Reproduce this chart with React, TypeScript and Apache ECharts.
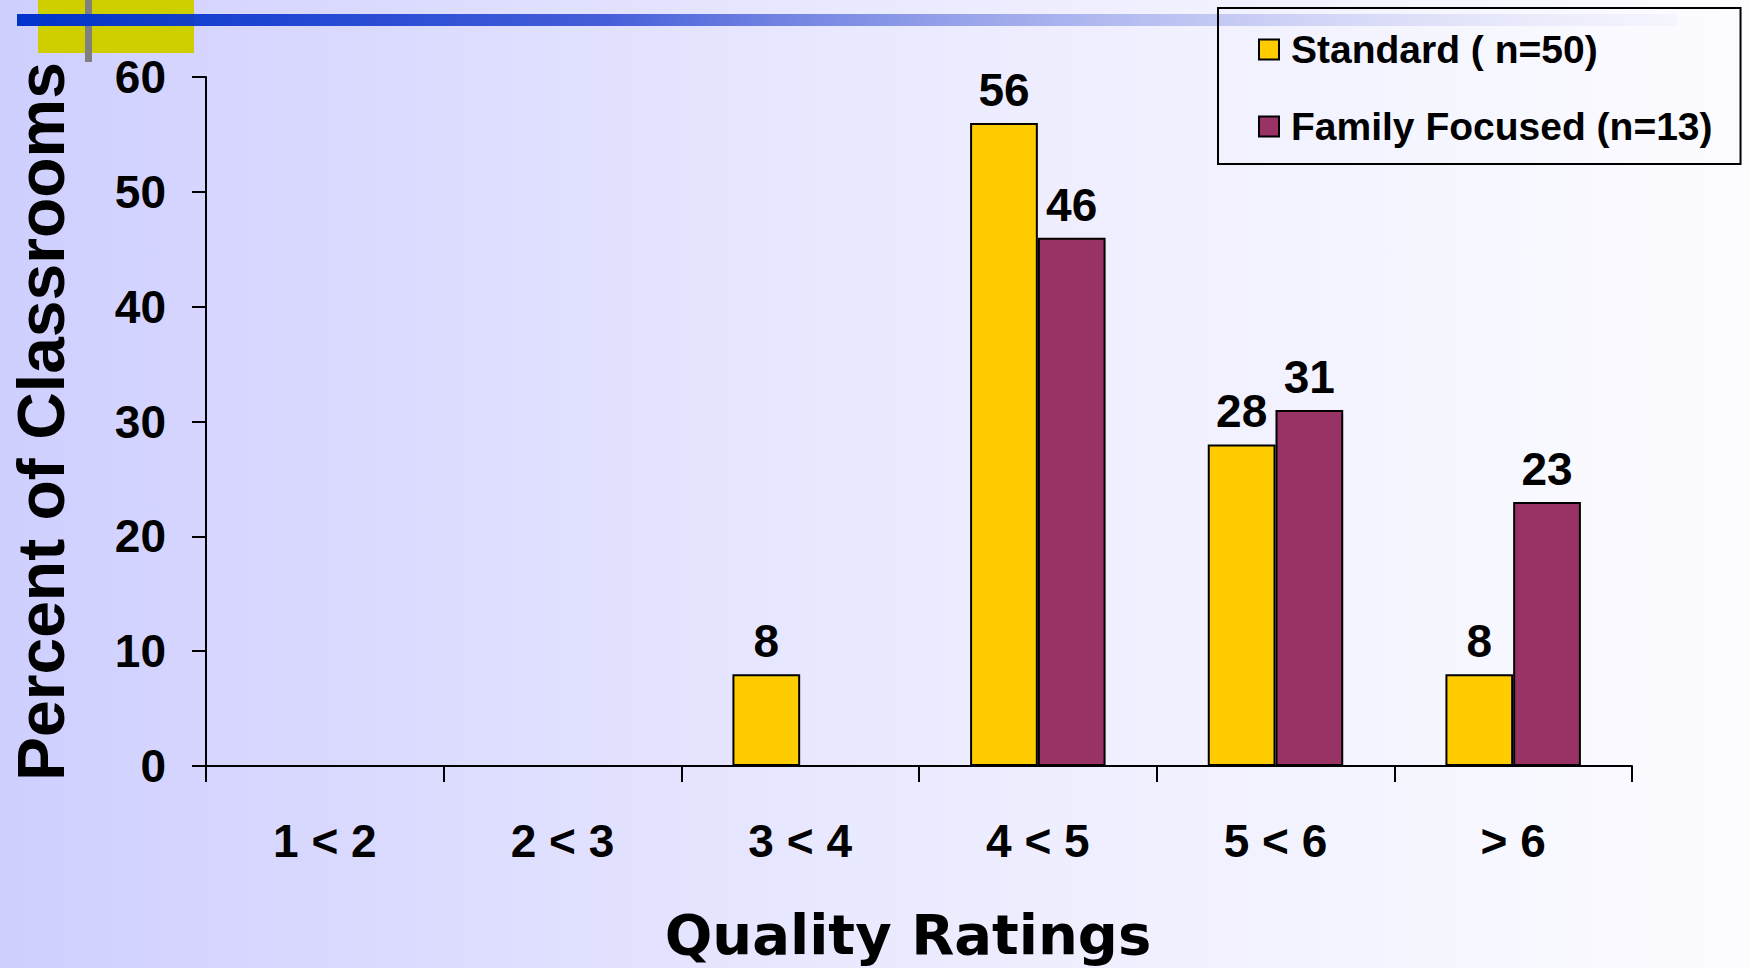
import React, { useEffect, useRef } from "react";
import * as echarts from "echarts";

// Quality rating bands on the x axis
const categories = ["1 < 2", "2 < 3", "3 < 4", "4 < 5", "5 < 6", "> 6"];

// Percent of classrooms in each band
const standardValues = [0, 0, 8, 56, 28, 8];
const familyFocusedValues = [0, 0, 0, 46, 31, 23];

const seriesNames = ["Standard ( n=50)", "Family Focused (n=13)"];

const yTicks = { min: 0, max: 60, interval: 10 };

const ARIAL = "'Liberation Sans', Arial, Helvetica, sans-serif";

export default function App() {
  const ref = useRef<HTMLDivElement>(null);

  useEffect(() => {
    if (!ref.current) return;
    const chart = echarts.init(ref.current, undefined, { renderer: "svg" });

    const valueLabel = {
      show: true,
      position: "top" as const,
      distance: 10,
      color: "#000",
      fontFamily: ARIAL,
      fontWeight: "bold" as const,
      fontSize: 46,
      formatter: (p: any) => (p.value > 0 ? String(p.value) : ""),
    };

    chart.setOption({
      animation: false,
      backgroundColor: {
        type: "linear",
        x: 0,
        y: 0,
        x2: 1,
        y2: 0,
        colorStops: [
          { offset: 0, color: "#cfcfff" },
          { offset: 0.55, color: "#ececff" },
          { offset: 1, color: "#fcfcff" },
        ],
      },
      graphic: [
        {
          type: "rect",
          z: 1,
          shape: { x: 38, y: 0, width: 156, height: 53 },
          style: { fill: "#cfcf00" },
        },
        {
          type: "rect",
          z: 2,
          shape: { x: 85, y: 0, width: 7, height: 62 },
          style: { fill: "#808080" },
        },
        {
          type: "rect",
          z: 3,
          shape: { x: 17, y: 14, width: 1660, height: 12 },
          style: {
            fill: {
              type: "linear",
              x: 0,
              y: 0,
              x2: 1,
              y2: 0,
              colorStops: [
                { offset: 0, color: "rgba(0,51,204,1)" },
                { offset: 0.35, color: "rgba(40,70,210,0.85)" },
                { offset: 1, color: "rgba(200,200,240,0.1)" },
              ],
            },
          },
        },
      ],
      legend: {
        orient: "vertical",
        left: 1218,
        top: 8,
        padding: [22, 28, 18, 40],
        itemGap: 38,
        itemWidth: 20,
        itemHeight: 20,
        icon: "rect",
        borderColor: "#000",
        borderWidth: 2,
        data: seriesNames,
        textStyle: {
          color: "#000",
          fontFamily: ARIAL,
          fontWeight: "bold",
          fontSize: 39,
          padding: [0, 0, 0, 7],
        },
      },
      grid: {
        left: 202,
        right: 117,
        top: 77,
        bottom: 202,
        containLabel: false,
      },
      xAxis: {
        type: "category",
        data: categories,
        boundaryGap: true,
        name: "Quality Ratings",
        nameLocation: "middle",
        nameGap: 140,
        nameTextStyle: {
          color: "#000",
          fontFamily: "'DejaVu Sans', Verdana, sans-serif",
          fontWeight: "bold",
          fontSize: 56,
          padding: [0, 22, 0, 0],
        },
        axisLine: { lineStyle: { color: "#000", width: 2 } },
        axisTick: {
          show: true,
          alignWithLabel: false,
          length: 16,
          lineStyle: { color: "#000", width: 2 },
        },
        axisLabel: {
          color: "#000",
          fontFamily: ARIAL,
          fontWeight: "bold",
          fontSize: 46,
          margin: 52,
          interval: 0,
        },
        splitLine: { show: false },
      },
      yAxis: {
        type: "value",
        min: yTicks.min,
        max: yTicks.max,
        interval: yTicks.interval,
        name: "Percent of Classrooms",
        nameLocation: "middle",
        nameRotate: 90,
        nameGap: 132,
        nameTextStyle: {
          color: "#000",
          fontFamily: ARIAL,
          fontWeight: "bold",
          fontSize: 66,
        },
        axisLine: { show: true, lineStyle: { color: "#000", width: 2 } },
        axisTick: {
          show: true,
          length: 14,
          lineStyle: { color: "#000", width: 2 },
        },
        axisLabel: {
          color: "#000",
          fontFamily: ARIAL,
          fontWeight: "bold",
          fontSize: 46,
          margin: 40,
        },
        splitLine: { show: false },
      },
      series: [
        {
          name: seriesNames[0],
          type: "bar",
          data: standardValues,
          barGap: "0%",
          barCategoryGap: "43%",
          itemStyle: { color: "#ffcc00", borderColor: "#000", borderWidth: 2 },
          label: valueLabel,
        },
        {
          name: seriesNames[1],
          type: "bar",
          data: familyFocusedValues,
          barGap: "0%",
          barCategoryGap: "43%",
          itemStyle: { color: "#993366", borderColor: "#000", borderWidth: 2 },
          label: valueLabel,
        },
      ],
    });

    return () => chart.dispose();
  }, []);

  return (
    <div
      ref={ref}
      style={{ position: "fixed", left: 0, top: 0, width: 1749, height: 968 }}
    />
  );
}
